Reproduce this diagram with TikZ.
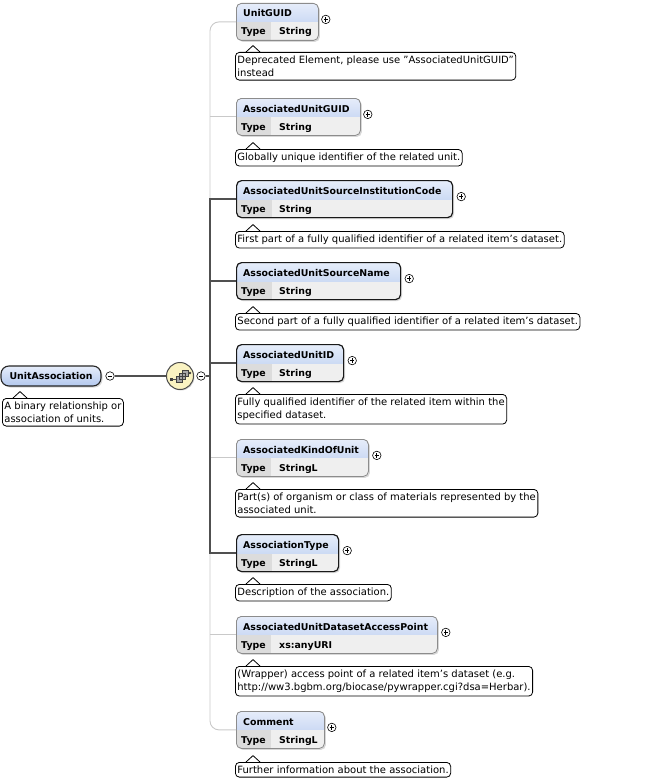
\documentclass[tikz,border=0pt]{standalone}
\usepackage{fontspec}
\setmainfont{DejaVu Sans}
\usetikzlibrary{shadows}
\definecolor{headtop}{HTML}{E6EDFA}
\definecolor{headbot}{HTML}{B3C8EE}
\definecolor{typecell}{HTML}{DCDCDC}
\definecolor{valcell}{HTML}{EFEFEF}
\definecolor{seqfill}{HTML}{FAF3C2}
\definecolor{optgray}{HTML}{C9C9C9}
\definecolor{reqgray}{HTML}{505050}
\tikzset{ %every element is a box with a head row and a type row
  {elem box/.style} ={rectangle, rounded corners=5pt, inner sep=0,
                minimum height=37pt, anchor=north west,
                drop shadow={shadow xshift=1.5pt, shadow yshift=-1.5pt,
                             fill=black!30, opacity=.5},
                path picture={
                  \fill[sharp corners, top color=headtop, bottom color=headbot]
                    (path picture bounding box.north west) rectangle
                    ([yshift=-19pt]path picture bounding box.north east);
                  \fill[sharp corners, valcell]
                    ([yshift=-19pt]path picture bounding box.north west)
                    rectangle (path picture bounding box.south east);
                  \fill[sharp corners, typecell]
                    ([yshift=-19pt]path picture bounding box.north west)
                    rectangle ([xshift=35pt]path picture bounding box.south west);}},
  {opt box/.style} ={elem box, draw=black!45, line width=.8pt},
  {req box/.style} ={elem box, draw=black!90, line width=1.2pt},
  {head text/.style} ={anchor=base west, inner sep=0,
                font=\fontsize{9.4}{11}\selectfont\bfseries},
  {type text/.style} ={head text},
  {root box/.style} ={rectangle, rounded corners=8pt, draw=black!85,
                line width=1.1pt, top color=headtop, bottom color=headbot,
                minimum width=100pt, minimum height=20pt, inner sep=0,
                font=\fontsize{9.4}{11}\selectfont\bfseries,
                drop shadow={shadow xshift=1.5pt, shadow yshift=-1.5pt,
                             fill=black!30, opacity=.5}},
  {seq node/.style} ={circle, draw=black!70, line width=1pt, fill=seqfill,
                minimum size=27pt, inner sep=0,
                drop shadow={shadow xshift=1pt, shadow yshift=-1pt,
                             fill=black!30, opacity=.5}},
  {sign/.style} ={circle, draw, fill=white, line width=.6pt,
                minimum size=8.5pt, inner sep=0},
  {minus sign/.style} ={sign, path picture={
                \draw[line width=.7pt]
                  ([xshift=-2.2pt]path picture bounding box.center) --
                  ([xshift=2.2pt]path picture bounding box.center);}},
  {plus sign/.style} ={sign, path picture={
                \draw[line width=.7pt]
                  ([xshift=-2.2pt]path picture bounding box.center) --
                  ([xshift=2.2pt]path picture bounding box.center)
                  ([yshift=-2.2pt]path picture bounding box.center) --
                  ([yshift=2.2pt]path picture bounding box.center);}},
  {doc note/.style} ={draw, fill=white, rounded corners=4pt, line width=.8pt,
                anchor=north west, align=left, inner xsep=2pt, inner ysep=3.5pt,
                font=\fontsize{10}{13}\selectfont,
                append after command={\pgfextra{
                  \fill[white, sharp corners]
                    ([xshift=11.6pt,yshift=-.6pt]\tikzlastnode.north west) --
                    ([xshift=18pt,yshift=6.4pt]\tikzlastnode.north west) --
                    ([xshift=24.4pt,yshift=-.6pt]\tikzlastnode.north west) -- cycle;
                  \draw[line width=.8pt, sharp corners]
                    ([xshift=11pt]\tikzlastnode.north west) --
                    ([xshift=18pt,yshift=6.4pt]\tikzlastnode.north west) --
                    ([xshift=25pt]\tikzlastnode.north west);}}},
  {opt line/.style} ={draw=optgray, line width=.9pt},
  {req line/.style} ={draw=reqgray, line width=2pt},
  {link line/.style} ={draw=reqgray, line width=1.5pt},
}

\begin{document}
\begin{tikzpicture}[x=1pt,y=-1pt]
\useasboundingbox (0,0) rectangle (659,784);
\coordinate (trunk) at (210,376);
% root element and the sequence
\node[root box] (root) at (51,376) {UnitAssociation};
\node[minus sign] (root-m) at (110,376) {};
\node[doc note] (root-d) at (2,398) {A binary relationship or\\association of units.};
\node[seq node] (seq) at (180,376) {};
\node[minus sign] (seq-m) at (201,376) {};
\fill[black!75] (169.5,377.5) rectangle (172.5,380.5);
\draw[black!70, line width=.7pt] (172,379) -- (176,379) (188,373) -- (190,373);
\filldraw[fill=black!35, draw=black!75, line width=.5pt]
  (176,376) rectangle (182,382) (179,373) rectangle (185,379)
  (182,370) rectangle (188,376);
\fill[black!75] (190,373) circle (1.4);
% child elements
\node[opt box, minimum width=82pt] (ugid) at (236,3) {};
\node[head text] (ugid-n) at ([shift={(7pt,-14pt)}]ugid.north west) {UnitGUID};
\node[type text] (ugid-t) at ([shift={(5pt,-32pt)}]ugid.north west) {Type};
\node[type text] (ugid-v) at ([shift={(43pt,-32pt)}]ugid.north west) {String};
\node[plus sign] (ugid-p) at ([shift={(7pt,2.5pt)}]ugid.east) {};
\node[doc note] (ugid-d) at (235,52) {Deprecated Element, please use "AssociatedUnitGUID"\\instead};

\node[opt box, minimum width=124pt] (augid) at (236,98) {};
\node[head text] (augid-n) at ([shift={(7pt,-14pt)}]augid.north west) {AssociatedUnitGUID};
\node[type text] (augid-t) at ([shift={(5pt,-32pt)}]augid.north west) {Type};
\node[type text] (augid-v) at ([shift={(43pt,-32pt)}]augid.north west) {String};
\node[plus sign] (augid-p) at ([shift={(7pt,2.5pt)}]augid.east) {};
\node[doc note] (augid-d) at (235,149) {Globally unique identifier of the related unit.};

\node[req box, minimum width=216pt] (ausic) at (236,180) {};
\node[head text] (ausic-n) at ([shift={(7pt,-14pt)}]ausic.north west) {AssociatedUnitSourceInstitutionCode};
\node[type text] (ausic-t) at ([shift={(5pt,-32pt)}]ausic.north west) {Type};
\node[type text] (ausic-v) at ([shift={(43pt,-32pt)}]ausic.north west) {String};
\node[plus sign] (ausic-p) at ([shift={(8pt,2.5pt)}]ausic.east) {};
\node[doc note] (ausic-d) at (235,231) {First part of a fully qualified identifier of a related item's dataset.};

\node[req box, minimum width=164pt] (ausn) at (236,262) {};
\node[head text] (ausn-n) at ([shift={(7pt,-14pt)}]ausn.north west) {AssociatedUnitSourceName};
\node[type text] (ausn-t) at ([shift={(5pt,-32pt)}]ausn.north west) {Type};
\node[type text] (ausn-v) at ([shift={(43pt,-32pt)}]ausn.north west) {String};
\node[plus sign] (ausn-p) at ([shift={(8pt,2.5pt)}]ausn.east) {};
\node[doc note] (ausn-d) at (235,313) {Second part of a fully qualified identifier of a related item's dataset.};

\node[req box, minimum width=107pt] (auid) at (236,344) {};
\node[head text] (auid-n) at ([shift={(7pt,-14pt)}]auid.north west) {AssociatedUnitID};
\node[type text] (auid-t) at ([shift={(5pt,-32pt)}]auid.north west) {Type};
\node[type text] (auid-v) at ([shift={(43pt,-32pt)}]auid.north west) {String};
\node[plus sign] (auid-p) at ([shift={(8pt,2.5pt)}]auid.east) {};
\node[doc note] (auid-d) at (235,394) {Fully qualified identifier of the related item within the\\specified dataset.};

\node[opt box, minimum width=132pt] (akou) at (236,439) {};
\node[head text] (akou-n) at ([shift={(7pt,-14pt)}]akou.north west) {AssociatedKindOfUnit};
\node[type text] (akou-t) at ([shift={(5pt,-32pt)}]akou.north west) {Type};
\node[type text] (akou-v) at ([shift={(43pt,-32pt)}]akou.north west) {StringL};
\node[plus sign] (akou-p) at ([shift={(8pt,2.5pt)}]akou.east) {};
\node[doc note] (akou-d) at (235,489) {Part(s) of organism or class of materials represented by the\\associated unit.};

\node[req box, minimum width=102pt] (atype) at (236,534) {};
\node[head text] (atype-n) at ([shift={(7pt,-14pt)}]atype.north west) {AssociationType};
\node[type text] (atype-t) at ([shift={(5pt,-32pt)}]atype.north west) {Type};
\node[type text] (atype-v) at ([shift={(43pt,-32pt)}]atype.north west) {StringL};
\node[plus sign] (atype-p) at ([shift={(8pt,2.5pt)}]atype.east) {};
\node[doc note] (atype-d) at (235,584) {Description of the association.};

\node[opt box, minimum width=201pt] (audap) at (236,616) {};
\node[head text] (audap-n) at ([shift={(7pt,-14pt)}]audap.north west) {AssociatedUnitDatasetAccessPoint};
\node[type text] (audap-t) at ([shift={(5pt,-32pt)}]audap.north west) {Type};
\node[type text] (audap-v) at ([shift={(43pt,-32pt)}]audap.north west) {xs:anyURI};
\node[plus sign] (audap-p) at ([shift={(8pt,2.5pt)}]audap.east) {};
\node[doc note] (audap-d) at (235,666) {(Wrapper) access point of a related item's dataset (e.g.\\http://ww3.bgbm.org/biocase/pywrapper.cgi?dsa=Herbar).};

\node[opt box, minimum width=88pt] (comment) at (236,711) {};
\node[head text] (comment-n) at ([shift={(7pt,-14pt)}]comment.north west) {Comment};
\node[type text] (comment-t) at ([shift={(5pt,-32pt)}]comment.north west) {Type};
\node[type text] (comment-v) at ([shift={(43pt,-32pt)}]comment.north west) {StringL};
\node[plus sign] (comment-p) at ([shift={(7pt,2.5pt)}]comment.east) {};
\node[doc note] (comment-d) at (235,762) {Further information about the association.};
% connectors
\draw[link line] (root-m) -- (seq);
\draw[opt line, rounded corners=9pt] (ugid.west) -- (ugid.west -| trunk)
  -- (comment.west -| trunk) -- (comment.west);
\draw[opt line] (augid.west) -- (augid.west -| trunk);
\draw[opt line] (akou.west) -- (akou.west -| trunk);
\draw[opt line] (audap.west) -- (audap.west -| trunk);
\draw[req line] (ausic.west) -- (ausic.west -| trunk)
  -- (atype.west -| trunk) -- (atype.west);
\draw[req line] (ausn.west) -- (ausn.west -| trunk);
\draw[req line] (auid.west) -- (auid.west -| trunk);
\draw[req line] (seq-m) -- (trunk);
\end{tikzpicture}
\end{document}
